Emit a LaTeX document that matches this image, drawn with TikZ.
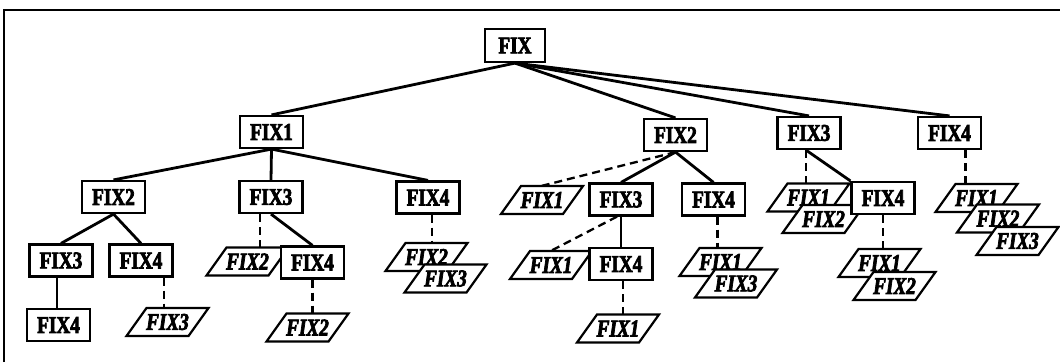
\documentclass[tikz,border=0pt]{standalone}
\usepackage{fontspec}
\setmainfont{Liberation Serif}[FakeStretch=0.8, BoldFont={Liberation Serif Bold}, BoldItalicFont={Liberation Serif Bold Italic}, BoldFeatures={FakeBold=3}, BoldItalicFeatures={FakeBold=3}]
\tikzset{
  box/.style={draw, line width=2.2pt, fill=white, minimum width=63pt, minimum height=32pt, inner sep=0pt, font=\fontsize{24}{26}\selectfont\bfseries},
  paratext/.style={minimum width=60pt, minimum height=28pt, inner sep=0pt, font=\fontsize{24}{26}\selectfont\bfseries\itshape},
  parashape/.style={draw, line width=2.2pt, fill=white, line join=miter},
  edge/.style={line width=2.8pt},
  thinedge/.style={line width=1.5pt},
  dashedge/.style={line width=2.3pt, dash pattern=on 8pt off 5pt}
}
\newcommand\paranode[4]{%
  \path[parashape] (#2-41,#3+14) -- (#2+21,#3+14) -- (#2+41,#3-14) -- (#2-21,#3-14) -- cycle;
  \node[paratext] (#1) at (#2,#3) {#4};
}
\begin{document}
\begin{tikzpicture}[x=1pt,y=-1pt]
\useasboundingbox (0,0) rectangle (1060,362);
\draw[line width=2pt] (4,362) -- (4,9.5) -- (1060,9.5);
% level 0/1
\node[box, minimum width=60pt, minimum height=33pt] (r) at (515,45.5) {FIX};
\node[box] (n1) at (271.5,132) {FIX1};
\node[box] (n2) at (675.5,135) {FIX2};
\node[box] (n3) at (809,133) {FIX3};
\node[box] (n4) at (949.5,133) {FIX4};
% level 2
\node[box] (a) at (113.5,197) {FIX2};
\node[box] (b) at (271,197) {FIX3};
\node[box] (c) at (428,197.5) {FIX4};
\paranode{p1}{542}{200}{FIX1}
\node[box] (d) at (621,199.5) {FIX3};
\node[box] (e) at (713.5,199.5) {FIX4};
\paranode{q1}{808.5}{197.5}{FIX1}
\paranode{q2}{823.5}{219}{FIX2}
\node[box] (f) at (883,198) {FIX4};
\paranode{s1}{976.5}{198}{FIX1}
\paranode{s2}{998}{218.5}{FIX2}
\paranode{s3}{1017.5}{241}{FIX3}
% level 3
\node[box] (g) at (61,260.5) {FIX3};
\node[box] (h) at (141,260.5) {FIX4};
\paranode{t1}{247.5}{261.5}{FIX2}
\node[box] (i) at (312.5,262.5) {FIX4};
\paranode{u1}{426.5}{257}{FIX2}
\paranode{u2}{445.5}{278.5}{FIX3}
\paranode{v1}{551}{265}{FIX1}
\node[box] (j) at (621,264) {FIX4};
\paranode{w1}{720.5}{262}{FIX1}
\paranode{w2}{736}{283.5}{FIX3}
\paranode{x1}{879.5}{263}{FIX1}
\paranode{x2}{894.5}{286}{FIX2}
% level 4
\node[box] (k) at (58.5,325) {FIX4};
\paranode{y1}{167.5}{322}{FIX3}
\paranode{y2}{307.5}{327.5}{FIX2}
\paranode{z1}{618}{328.5}{FIX1}
% solid edges
\draw[edge] (r.south) -- (n1.north);
\draw[edge] (r.south) -- (n2.north);
\draw[edge] (r.south) -- (n3.north);
\draw[edge] (r.south) -- (n4.north);
\draw[edge] (n1.south) -- (a.north);
\draw[edge] (n1.south) -- (b.north);
\draw[edge] (n1.south) -- (c.north);
\draw[edge] (a.south) -- (g.north);
\draw[edge] (a.south) -- (h.north);
\draw[edge] (b.south) -- (i.north);
\draw[edge] (n2.south) -- (d.north);
\draw[edge] (n2.south) -- (e.north);
\draw[edge] (d.south) -- (j.north);
\draw[edge] ([xshift=-3pt]n3.south) -- (f.north west);
\draw[thinedge] ([xshift=-4pt]g.south) -- ([xshift=-4pt]g.south |- k.north);
% dashed edges
\draw[dashedge] (n2.south) -- (p1.north);
\draw[dashedge] ([xshift=-4pt]d.south) -- (v1.north);
\draw[dashedge] ([xshift=23pt]h.south) -- ([xshift=23pt]h.south |- y1.north);
\draw[dashedge] ([xshift=-11pt]b.south) -- ([xshift=-11pt]b.south |- t1.north);
\draw[dashedge] (i.south) -- (i.south |- y2.north);
\draw[dashedge] ([xshift=4pt]c.south) -- ([xshift=4pt]c.south |- u1.north);
\draw[dashedge] ([xshift=2pt]j.south) -- ([xshift=2pt]j.south |- z1.north);
\draw[dashedge] ([xshift=4pt]e.south) -- ([xshift=4pt]e.south |- w1.north);
\draw[dashedge] ([xshift=-3pt]n3.south) -- ([xshift=-3pt]n3.south |- q1.north);
\draw[dashedge] (f.south) -- (f.south |- x1.north);
\draw[dashedge] ([xshift=16pt]n4.south) -- ([xshift=16pt]n4.south |- s1.north);
\end{tikzpicture}
\end{document}
